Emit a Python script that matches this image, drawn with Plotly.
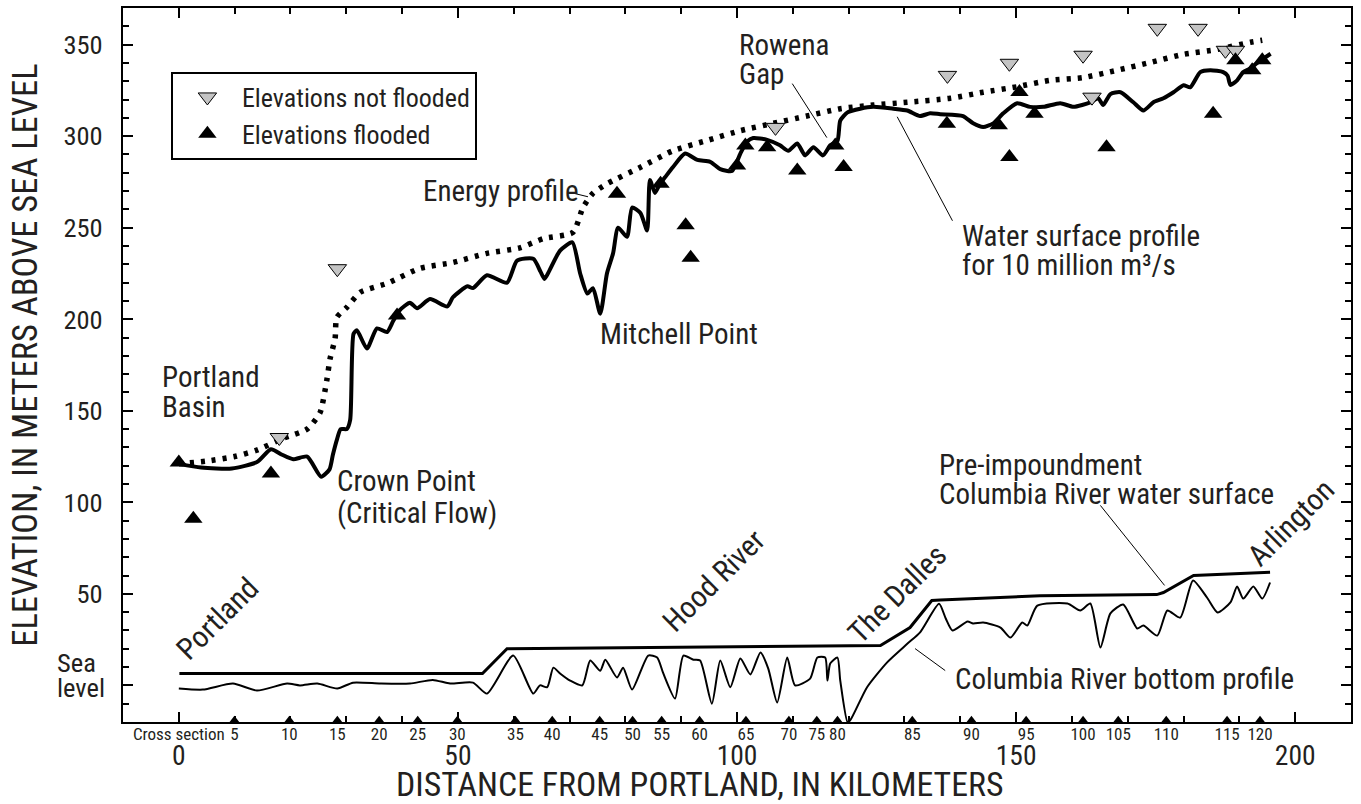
import plotly.graph_objects as go

FONT = "Liberation Sans Narrow, Roboto Condensed, DejaVu Sans Condensed, Arial Narrow, sans-serif"

# ---------------- data ----------------
ws_km = [0, 4, 9.5, 14, 16.5, 18.5, 20.5, 23, 25.5, 27, 27.6, 28.3, 29, 30.1, 30.7, 31.3, 31.9,
         33.7, 35.5, 37.3, 38.4, 39.6, 41.4, 42.7, 45, 48.1, 49.1, 51.7, 52.7, 55.2, 58.8, 60.6,
         63.5, 64.8, 65.5, 66.3, 68.3, 70.5, 71.9, 73.2, 74.2, 75.5, 76.7, 77.8, 78.7, 80.3, 81.2,
         82.7, 83.9, 84.4, 85.3, 86.2, 87.1, 88.5, 90.7, 92.9, 95.2, 97, 99.1, 100.6, 101.8, 102.9,
         105.4, 107.7, 109.2, 110.8, 112.2, 113.7, 115.4, 116.7, 118, 118.5, 119.8, 122.1, 124.4,
         128, 130.5, 132.8, 134.6, 136.4, 140.5, 142.3, 144.1, 145.9, 147.7, 150.2, 152.5, 154.9,
         157.9, 160.3, 163.3, 164.7, 165.6, 166.9, 168.7, 171, 172.8, 174.6, 176.4, 178.2, 180,
         181.2, 183, 184.8, 187.1, 187.9, 188.4, 189.6, 190.7, 192, 193.2, 195.6]
ws_elev = [121, 119, 118.5, 122, 129, 126, 123.5, 125, 114, 118, 126, 134, 140, 140, 145, 192, 194,
           184, 195, 193, 199, 205, 209, 206, 211, 207, 212, 218, 217, 224, 220, 232,
           233, 226, 222, 226, 237.5, 242, 225, 214, 217, 203, 225, 236, 250, 245, 261,
           258, 248.5, 276, 269, 274, 277.5, 283, 290.5, 287, 286, 282, 281, 290.5, 297, 299,
           298, 295, 292, 296, 289.5, 294, 289.5, 295, 297.5, 308.5, 313, 315, 316,
           315, 314, 311, 312.5, 312, 311, 307, 305, 307, 312.5, 318, 316, 316,
           318, 316, 318.5, 320.7, 317, 323, 324, 318.5, 314, 318.5, 320.7, 324, 327.8,
           326.7, 335, 336, 335, 333, 328, 330.5, 335, 337, 340, 345]

en_km = [0, 5, 10, 14, 18.7, 23, 25.3, 26.5, 27.1, 28, 28.3, 30.1, 32.5, 37.3, 43.2, 49.1, 55.2,
         61.1, 65.3, 70.6, 72.4, 74.2, 76.7, 82.7, 88.5, 94.7, 100.6, 106.5, 112.5, 118.5, 124.4,
         130.5, 138.2, 144.1, 150.2, 156.1, 162, 168.1, 174.1, 180, 186.1, 192, 194.1]
en_elev = [121, 122.5, 125, 128.5, 135, 140, 149, 166.5, 178.5, 189.5, 201, 206.5, 214.7, 219.6,
           227.8, 231, 236, 239, 244, 247.4, 261, 268.8, 274, 283, 292, 297.7, 303, 307, 311, 315,
           317, 318.5, 320.7, 324, 327, 330.5, 332, 336, 340.3, 344.7, 347.4, 351.3, 352.4]

notfl_km = [18.0, 28.4, 106.9, 137.7, 148.8, 162.0, 163.6, 175.3, 182.6, 187.5, 189.3]
notfl_elev = [135.4, 227.6, 304.8, 333.2, 339.8, 344.2, 321.3, 358.9, 358.9, 346.9, 346.9]

fl_km = [0, 2.6, 16.5, 39.1, 78.5, 86.3, 90.8, 91.7, 100, 101.5, 105.4, 110.8, 117.6, 119.1,
         137.6, 146.9, 148.8, 150.6, 153.3, 166.2, 185.3, 189.3, 192.3, 194.1]
fl_elev = [121.7, 91, 115.7, 202, 268.6, 274, 251.3, 233.6, 284, 294.9, 294, 281.3, 294.9, 283.1,
           306.8, 305.9, 288.6, 324.1, 312.3, 294, 312.3, 341.4, 336, 341.4]

pre_km = [0.1, 54.4, 58.8, 125.7, 131, 134.9, 136.4, 154.3, 175.2, 176.4, 181.8, 195.5]
pre_elev = [6.5, 6.5, 20, 21.8, 31.6, 46.4, 46.7, 48.9, 49.6, 50.7, 60, 61.8]

bot_km = [0, 4.3, 9.7, 14, 19.4, 21.7, 24.8, 28.4, 31.2, 36.1, 41.4, 45.5, 48.6, 52.7, 55.2, 59.9,
          63.5, 64.7, 66, 67.1, 68.3, 70.1, 72.3, 73.7, 75.5, 76.4, 78.5, 79.6, 81.2, 84.1, 85.7,
          86.8, 88.9, 90.4, 92.2, 93.4, 95.5, 97, 98.8, 100.6, 102.4, 104.2, 105.6, 107.2, 109,
          110.4, 113.1, 114.4, 115.8, 116.2, 116.7, 118, 118.5, 119.8, 120.3, 123.3, 126.9, 130.5,
          132.8, 136.2, 137.4, 138.6, 141.3, 142.3, 144.1, 147.2, 149, 151.1, 152, 153.8, 159.2,
          161.5, 163.3, 165.1, 166.9, 169.2, 171.7, 172.8, 175.3, 177.1, 179.4, 181.7, 184.2,
          186.1, 188.4, 189.6, 190.7, 192.5, 194.1, 195.5]
bot_elev = [-1.7, -2.3, 1, -2.8, 1, 0, 1, -1.7, 1.5, 1, 1, 3, 1, 1.5, -4.5, 16.3,
            -4.5, 0, -1, 9.7, 6.5, 2.6, 0, 13.6, 8, 14, 4.3, 9.7, -2.3, 16.3, 15.2,
            6.5, -7.2, 16.3, 14, 13.6, -10, 13.6, -1, 14.7, 6, 18, 9.2, -9.4, 15.2,
            0, 3.7, 15.2, 15.2, 2.6, 11.9, 15.2, 2.6, -20, -19, -1, 12.6, 22.7,
            29, 44.6, 36.5, 30, 34.9, 33.8, 34.3, 31.6, 26.1, 34.3, 32.7, 43.6, 44.7,
            40.9, 44.7, 20.7, 39.3, 44.2, 31.1, 32.7, 27.2, 40.9, 37, 57.3, 48,
            39.8, 45.3, 54, 47.4, 54, 47.4, 56.2]

cs_km = [9.96, 19.8, 28.4, 35.9, 42.8, 49.9, 60.3, 66.9, 75.4, 81.3, 86.5, 93.3, 101.6, 109.3,
         114.3, 118.0, 131.4, 142.0, 151.8, 162.0, 168.3, 176.9, 187.8, 193.7]
cs_labels = ["5", "10", "15", "20", "25", "30", "35", "40", "45", "50", "55", "60", "65", "70",
             "75", "80", "85", "90", "95", "100", "105", "110", "115", "120"]

x_ticks = [0, 50, 100, 150, 200]
y_ticks = [0, 50, 100, 150, 200, 250, 300, 350]
y_ticktext = ["", "50", "100", "150", "200", "250", "300", "350"]
sea_level_label = ["Sea", "level"]

# ---------------- layout constants ----------------
X_RANGE = [-10, 210]
Y_RANGE = [-20, 370]
CS_MARKER_Y = -19.1
TXT = "#231f20"
PLOT_L, PLOT_T, PLOT_W, PLOT_H = 123, 8, 1228, 714

fig = go.Figure()

fig.add_trace(go.Scatter(x=bot_km, y=bot_elev, mode="lines",
                         line=dict(color="black", width=2, shape="spline", smoothing=0.6),
                         showlegend=False, hoverinfo="skip"))
fig.add_trace(go.Scatter(x=pre_km, y=pre_elev, mode="lines", line=dict(color="black", width=3),
                         showlegend=False, hoverinfo="skip"))
fig.add_trace(go.Scatter(x=en_km, y=en_elev, mode="lines",
                         line=dict(color="black", width=5.5, dash="4px,7px", shape="spline", smoothing=0.6),
                         showlegend=False, hoverinfo="skip"))
fig.add_trace(go.Scatter(x=ws_km, y=ws_elev, mode="lines",
                         line=dict(color="black", width=4, shape="spline", smoothing=0.6),
                         showlegend=False, hoverinfo="skip"))
fig.add_trace(go.Scatter(x=notfl_km, y=notfl_elev, mode="markers", name="Elevations not flooded",
                         marker=dict(symbol="triangle-down", size=16, color="#c4c4c4",
                                     line=dict(color="black", width=1))))
fig.add_trace(go.Scatter(x=fl_km, y=fl_elev, mode="markers", name="Elevations flooded",
                         marker=dict(symbol="triangle-up", size=16, color="black",
                                     line=dict(color="black", width=0))))
fig.add_trace(go.Scatter(x=cs_km, y=[CS_MARKER_Y] * len(cs_km), xaxis="x2", mode="markers",
                         marker=dict(symbol="triangle-up", size=9, color="black"),
                         cliponaxis=False, showlegend=False, hoverinfo="skip"))

axis_common = dict(showline=True, linecolor="black", linewidth=2, mirror="ticks",
                   ticks="inside", tickcolor="black", tickwidth=1.5, ticklen=10,
                   showgrid=False, zeroline=False, automargin=False)
minor_ticks = dict(dtick=10, tick0=0, ticks="inside", ticklen=6, tickcolor="black", tickwidth=1.5)

fig.update_layout(
    width=1361, height=804,
    margin=dict(l=PLOT_L, r=1361 - PLOT_L - PLOT_W, t=PLOT_T, b=804 - PLOT_T - PLOT_H),
    paper_bgcolor="white", plot_bgcolor="white",
    font=dict(family=FONT, color=TXT, size=22),
    xaxis=dict(range=X_RANGE, tickvals=x_ticks, ticktext=[str(v) for v in x_ticks],
               tickfont=dict(size=27.5), ticklabelstandoff=8, tickangle=0,
               minor=minor_ticks, **axis_common),
    xaxis2=dict(range=X_RANGE, overlaying="x", anchor="y", side="bottom", automargin=False,
                tickvals=[0] + cs_km, ticktext=["Cross section"] + cs_labels, tickangle=0,
                tickfont=dict(size=17), ticks="", showline=False, showgrid=False, zeroline=False),
    yaxis=dict(range=Y_RANGE, tickvals=y_ticks, ticktext=y_ticktext, tickfont=dict(size=26.5),
               ticklabelstandoff=13, minor=minor_ticks, **axis_common),
    legend=dict(x=0.039, y=0.911, xanchor="left", yanchor="top", bgcolor="white",
                bordercolor="black", borderwidth=2, font=dict(size=26), tracegroupgap=0,
                itemwidth=59),
    showlegend=True,
)

PX_PER_M = PLOT_H / (Y_RANGE[1] - Y_RANGE[0])


def note(lines, x, y_first, size=29, spacing_px=30, angle=0, xanchor="left"):
    for i, line in enumerate(lines):
        fig.add_annotation(x=x, y=y_first - i * spacing_px / PX_PER_M, xref="x", yref="y",
                           text=line, showarrow=False,
                           font=dict(size=size, family=FONT, color=TXT), textangle=angle,
                           xanchor=xanchor, yanchor="middle", align="left")


note(["Portland", "Basin"], -3.35, 168.4)
note(["Crown Point", "(Critical Flow)"], 28.0, 111.4, spacing_px=32)
note(["Energy profile"], 43.3, 270.3)
note(["Mitchell Point"], 75.1, 192.2)
note(["Rowena", "Gap"], 100.0, 349.6, spacing_px=29)
note(["Water surface profile", "for 10 million m³/s"], 140.0, 245.2, spacing_px=29)
note(["Pre-impoundment", "Columbia River water surface"], 135.9, 120.6, spacing_px=29)
note(["Columbia River bottom profile"], 138.7, 3.7)
note(["Portland"], 6.9, 36.5, size=30, angle=-45, xanchor="center")
note(["Hood River"], 95.8, 57.3, size=30, angle=-45, xanchor="center")
note(["The Dalles"], 128.7, 50.2, size=30, angle=-45, xanchor="center")
note(["Arlington"], 199.2, 89, size=30, angle=-45, xanchor="center")

# "Sea level" label beside the zero tick
for i, word in enumerate(sea_level_label):
    fig.add_annotation(x=(55 - PLOT_L) / PLOT_W, xref="paper", y=12.5 - i * 25 / PX_PER_M, yref="y",
                       text=word, showarrow=False, xanchor="left", yanchor="middle",
                       font=dict(size=26.5, family=FONT, color=TXT))

# axis titles
fig.add_annotation(x=(699 - PLOT_L) / PLOT_W, y=-0.087, xref="paper", yref="paper",
                   text="DISTANCE FROM PORTLAND, IN KILOMETERS", showarrow=False,
                   font=dict(size=33.8, family=FONT, color=TXT), xanchor="center", yanchor="middle")
fig.add_annotation(x=-0.08, y=(PLOT_T + PLOT_H - 355) / PLOT_H, xref="paper", yref="paper",
                   text="ELEVATION, IN METERS ABOVE SEA LEVEL", showarrow=False, textangle=-90,
                   font=dict(size=34.5, family=FONT, color=TXT), xanchor="center", yanchor="middle")

# leader lines
leaders = [((71.0, 268.6), (73.3, 266.9)),
           ((109.9, 328.7), (116.1, 299.2)),
           ((128.7, 310.6), (138.6, 253.8)),
           ((165.1, 98.3), (176.6, 54.6)),
           ((131.9, 20.1), (137.3, 8.1))]
for (x0, y0), (x1, y1) in leaders:
    fig.add_shape(type="line", xref="x", yref="y", x0=x0, y0=y0, x1=x1, y1=y1,
                  line=dict(color="black", width=1))

fig.write_html("out.html", config={"displayModeBar": False},
               post_script="document.body.style.margin='0px';")
